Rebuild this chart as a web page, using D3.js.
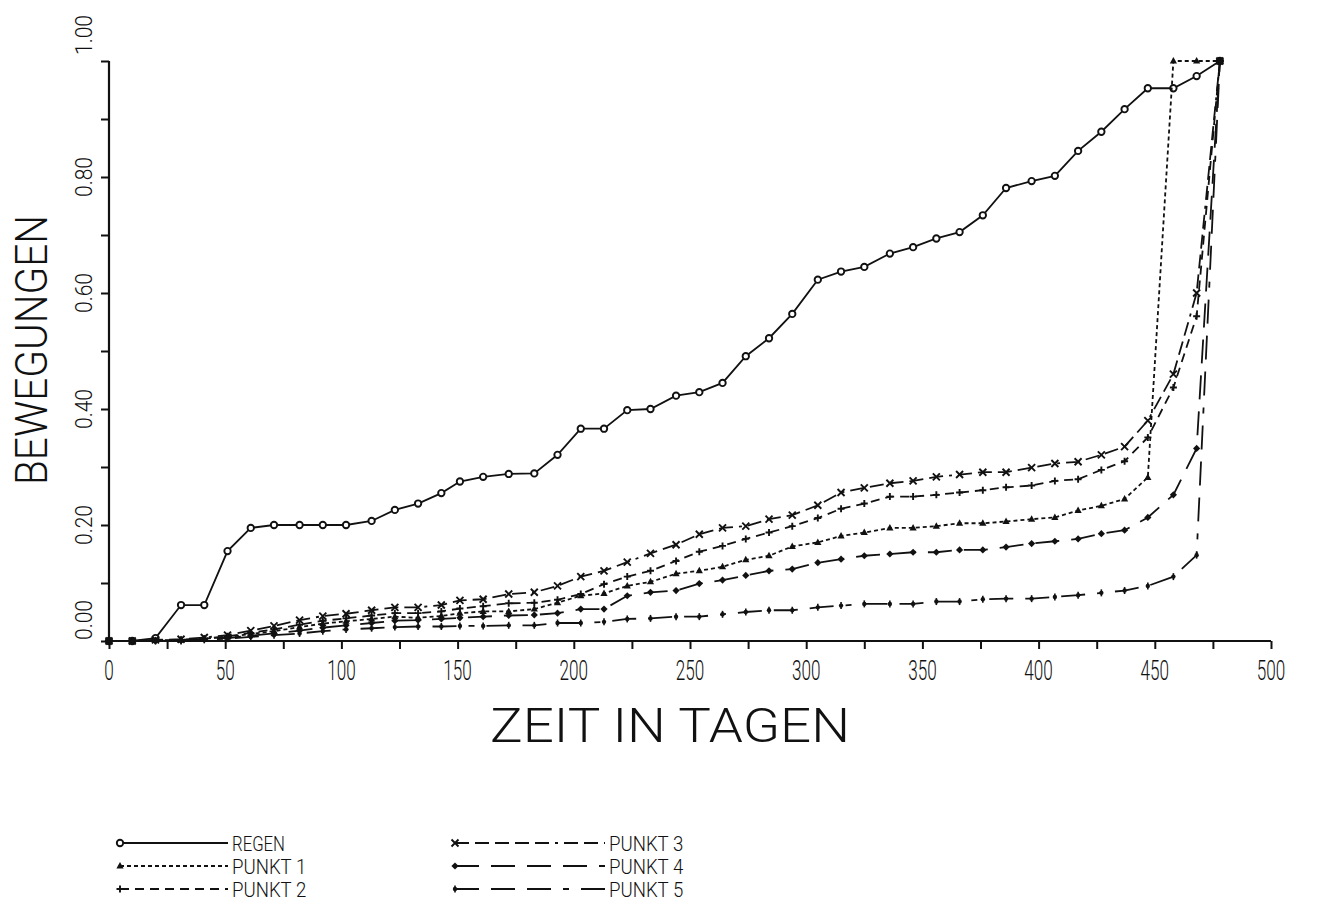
<!DOCTYPE html>
<html>
<head>
<meta charset="utf-8">
<script src="https://cdn.jsdelivr.net/npm/d3@7"></script>
<style>
  html, body { margin: 0; padding: 0; background: #fff; }
  svg text { font-family: "Roboto", "DejaVu Sans", sans-serif; font-weight: 300; fill: #111; }
</style>
</head>
<body>
<svg id="chart" width="1318" height="910"></svg>
<script>
// ---- data ----
const days = [0, 10, 20, 31, 41, 51, 61, 71, 82, 92, 102, 113, 123, 133, 143, 151, 161, 172, 183, 193,
  203, 213, 223, 233, 244, 254, 264, 274, 284, 294, 305, 315, 325, 336, 346, 356, 366, 376, 386, 397,
  407, 417, 427, 437, 447, 458, 468, 478];

const regen = [0, 0, 0.005, 0.062, 0.062, 0.155, 0.195, 0.2, 0.2, 0.2, 0.2, 0.207, 0.226, 0.237, 0.255, 0.275, 0.283, 0.288, 0.289, 0.321,
  0.366, 0.366, 0.398, 0.400, 0.423, 0.429, 0.445, 0.491, 0.522, 0.564, 0.623, 0.637, 0.645, 0.668, 0.679, 0.694, 0.705, 0.734, 0.781, 0.793,
  0.802, 0.845, 0.878, 0.917, 0.953, 0.953, 0.974, 1.0];

const punkt1 = [0, 0, 0.001, 0.002, 0.004, 0.007, 0.012, 0.017, 0.024, 0.030, 0.034, 0.038, 0.042, 0.040, 0.043, 0.048, 0.051, 0.051, 0.055, 0.066,
  0.078, 0.082, 0.095, 0.102, 0.116, 0.121, 0.128, 0.140, 0.147, 0.163, 0.170, 0.181, 0.187, 0.195, 0.195, 0.198, 0.203, 0.203, 0.206, 0.210,
  0.213, 0.225, 0.233, 0.245, 0.282, 1.0, 1.0, 1.0];

const punkt2 = [0, 0, 0.001, 0.002, 0.004, 0.008, 0.014, 0.020, 0.028, 0.035, 0.039, 0.044, 0.048, 0.048, 0.051, 0.056, 0.060, 0.065, 0.066, 0.071,
  0.081, 0.098, 0.111, 0.121, 0.138, 0.154, 0.164, 0.176, 0.187, 0.198, 0.212, 0.228, 0.237, 0.249, 0.249, 0.252, 0.256, 0.260, 0.265, 0.268,
  0.276, 0.279, 0.295, 0.310, 0.351, 0.437, 0.56, 1.0];

const punkt3 = [0, 0, 0.002, 0.003, 0.006, 0.010, 0.018, 0.026, 0.036, 0.043, 0.047, 0.053, 0.058, 0.058, 0.062, 0.070, 0.072, 0.081, 0.084, 0.095,
  0.111, 0.121, 0.136, 0.151, 0.166, 0.184, 0.195, 0.198, 0.210, 0.217, 0.234, 0.256, 0.264, 0.272, 0.276, 0.283, 0.287, 0.291, 0.291, 0.299,
  0.306, 0.309, 0.321, 0.335, 0.380, 0.46, 0.60, 1.0];

const punkt4 = [0, 0, 0, 0.001, 0.003, 0.005, 0.009, 0.013, 0.018, 0.023, 0.027, 0.031, 0.035, 0.036, 0.038, 0.040, 0.042, 0.044, 0.045, 0.048,
  0.055, 0.055, 0.078, 0.084, 0.087, 0.099, 0.105, 0.113, 0.121, 0.124, 0.135, 0.141, 0.147, 0.150, 0.153, 0.153, 0.157, 0.157, 0.162, 0.168,
  0.172, 0.176, 0.185, 0.191, 0.213, 0.252, 0.332, 1.0];

const punkt5 = [0, 0, 0, 0, 0.002, 0.004, 0.007, 0.010, 0.013, 0.017, 0.020, 0.022, 0.024, 0.025, 0.025, 0.026, 0.026, 0.027, 0.027, 0.031,
  0.031, 0.033, 0.038, 0.039, 0.042, 0.042, 0.046, 0.050, 0.053, 0.053, 0.058, 0.061, 0.064, 0.064, 0.064, 0.068, 0.068, 0.072, 0.073, 0.073,
  0.076, 0.079, 0.083, 0.087, 0.095, 0.111, 0.148, 1.0];

const xTicks = [0, 50, 100, 150, 200, 250, 300, 350, 400, 450, 500];
const yTicks = [0, 0.2, 0.4, 0.6, 0.8, 1.0];
const seriesNames = ["REGEN", "PUNKT 1", "PUNKT 2", "PUNKT 3", "PUNKT 4", "PUNKT 5"];
const xTitle = "ZEIT IN TAGEN";
const yTitle = "BEWEGUNGEN";

// ---- styles (not data) ----
const styles = [
  { values: regen,  dash: null,                                   marker: "circle" },
  { values: punkt1, dash: "4,3",                                  marker: "triangle" },
  { values: punkt2, dash: "9,6",                                  marker: "plus" },
  { values: punkt3, dash: "14,6,14,6,14,6,14,6,14,6,3,6",         marker: "cross" },
  { values: punkt4, dash: "24,12",                                marker: "diamond" },
  { values: punkt5, dash: "24,12,24,12,24,12,6,12",               marker: "dot" }
];

const svg = d3.select("#chart");
const x = d3.scaleLinear().domain([0, 500]).range([109, 1271]);
const y = d3.scaleLinear().domain([0, 1]).range([641, 61]);

// axes
const xAxis = d3.axisBottom(x).tickValues(d3.range(0, 501, 25)).tickSize(8).tickFormat("");
const gx = svg.append("g").attr("transform", `translate(0,${y(0)})`).call(xAxis);
const yAxis = d3.axisLeft(y).tickValues(d3.range(0, 1.0001, 0.1)).tickSize(8).tickFormat("");
const gy = svg.append("g").attr("transform", `translate(${x(0)},0)`).call(yAxis);
[gx, gy].forEach(g => {
  g.select(".domain").attr("stroke", "#111").attr("stroke-width", 2.2);
  g.selectAll(".tick line").attr("stroke", "#111").attr("stroke-width", 2);
});
gx.select(".domain").attr("d", `M${x(0)},0H${x(500)}`);
gy.select(".domain").attr("d", `M0,${y(1)}V${y(0)}`);

// tick labels
svg.append("g").selectAll("text").data(xTicks).join("text")
  .attr("x", d => x(d)).attr("y", y(0) + 39)
  .attr("text-anchor", "middle").attr("font-size", 27)
  .attr("textLength", d => String(d).length * 9.5).attr("lengthAdjust", "spacingAndGlyphs")
  .text(d => d);

// y labels: centred on their tick, the end labels shifted upward as in the plot
function yLabelCentre(d) {
  if (d === 0) return y(d) - 21;
  if (d === 1) return y(d) - 26;
  return y(d);
}
svg.append("g").selectAll("text").data(yTicks).join("text")
  .attr("transform", d => `translate(${x(0) - 17},${yLabelCentre(d)}) rotate(-90)`)
  .attr("text-anchor", "middle").attr("font-size", 24)
  .attr("textLength", 40).attr("lengthAdjust", "spacingAndGlyphs")
  .text(d => d3.format(".2f")(d));

// axis titles
svg.append("text").attr("x", 670).attr("y", 742).attr("text-anchor", "middle")
  .attr("font-size", 48).attr("textLength", 360).attr("lengthAdjust", "spacingAndGlyphs").text(xTitle);
svg.append("text").attr("transform", `translate(47,350) rotate(-90)`).attr("text-anchor", "middle")
  .attr("font-size", 45).attr("textLength", 270).attr("lengthAdjust", "spacingAndGlyphs").text(yTitle);

// marker drawing
function drawMarker(g, type, cx, cy) {
  const s = 3.5;
  if (type === "circle") {
    g.append("circle").attr("cx", cx).attr("cy", cy).attr("r", 3.2)
      .attr("fill", "#fff").attr("stroke", "#111").attr("stroke-width", 1.9);
  } else if (type === "triangle") {
    g.append("path").attr("d", `M${cx},${cy - 4}L${cx + 3.6},${cy + 2.5}L${cx - 3.6},${cy + 2.5}Z`).attr("fill", "#111");
  } else if (type === "plus") {
    g.append("path").attr("d", `M${cx - s},${cy}H${cx + s}M${cx},${cy - s}V${cy + s}`)
      .attr("stroke", "#111").attr("stroke-width", 1.9);
  } else if (type === "cross") {
    g.append("path").attr("d", `M${cx - s},${cy - s}L${cx + s},${cy + s}M${cx - s},${cy + s}L${cx + s},${cy - s}`)
      .attr("stroke", "#111").attr("stroke-width", 1.9);
  } else if (type === "diamond") {
    g.append("path").attr("d", `M${cx},${cy - 3.6}L${cx + 3.6},${cy}L${cx},${cy + 3.6}L${cx - 3.6},${cy}Z`).attr("fill", "#111");
  } else if (type === "dot") {
    g.append("path").attr("d", `M${cx},${cy - 3.5}V${cy + 3.5}`).attr("stroke", "#111").attr("stroke-width", 1.6);
    g.append("circle").attr("cx", cx).attr("cy", cy).attr("r", 2.2).attr("fill", "#111");
  }
}

const line = d3.line().x(d => x(d[0])).y(d => y(d[1]));
const plot = svg.append("g");
styles.forEach(st => {
  const pts = days.map((d, i) => [d, st.values[i]]);
  const p = plot.append("path").attr("d", line(pts)).attr("fill", "none")
    .attr("stroke", "#111").attr("stroke-width", 1.8);
  if (st.dash) p.attr("stroke-dasharray", st.dash);
  const mg = plot.append("g");
  pts.forEach(pt => drawMarker(mg, st.marker, x(pt[0]), y(pt[1])));
});

// legend
const legend = svg.append("g");
const legendCols = [{ x0: 120, x1: 228 }, { x0: 455, x1: 605 }];
const legendRows = [843, 866, 889];
seriesNames.forEach((name, i) => {
  const col = legendCols[Math.floor(i / 3)];
  const ly = legendRows[i % 3];
  const st = styles[i];
  const l = legend.append("path").attr("d", `M${col.x0},${ly}H${col.x1}`)
    .attr("stroke", "#111").attr("stroke-width", 1.8).attr("fill", "none");
  if (st.dash) l.attr("stroke-dasharray", st.dash);
  drawMarker(legend, st.marker, col.x0, ly);
  legend.append("text").attr("x", col.x1 + 4).attr("y", ly + 8)
    .attr("font-size", 20).attr("textLength", name.length * 10.6).attr("lengthAdjust", "spacingAndGlyphs")
    .text(name);
});
</script>
</body>
</html>
